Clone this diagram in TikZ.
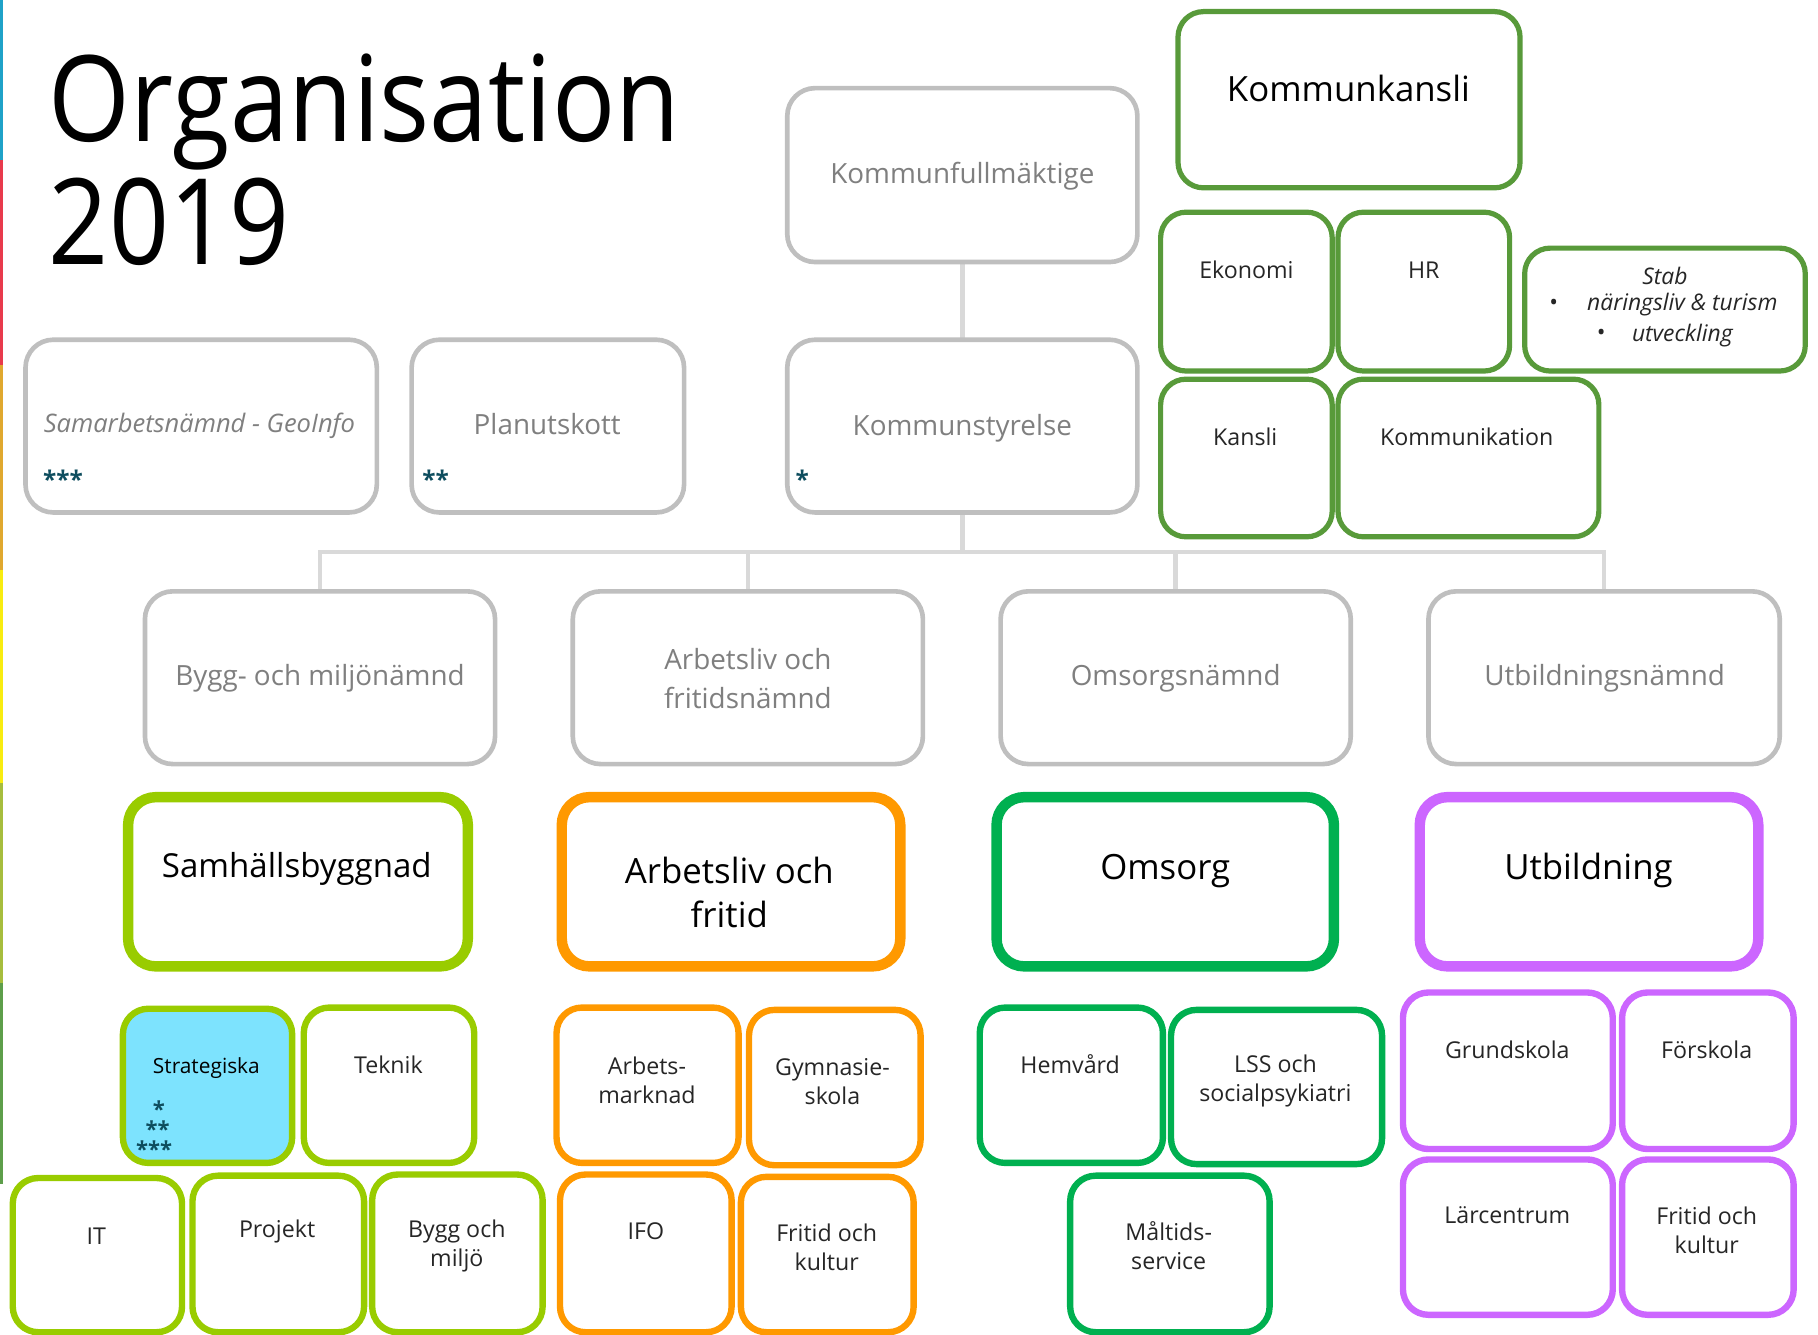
\documentclass[tikz,border=0pt]{standalone}
\usepackage{fontspec}
\setmainfont{Open Sans}
\newfontfamily\titlefont[FakeStretch=0.88]{Open Sans}
\usetikzlibrary{backgrounds}
\definecolor{boxgray}{HTML}{BFBFBF}
\definecolor{conngray}{HTML}{D9D9D9}
\definecolor{txtgray}{HTML}{7F7F7F}
\definecolor{txtdark}{HTML}{262626}
\definecolor{kgreen}{HTML}{589A3A}
\definecolor{lgreen}{HTML}{99CC00}
\definecolor{orng}{HTML}{FF9900}
\definecolor{mgreen}{HTML}{00B050}
\definecolor{purp}{HTML}{CC66FF}
\definecolor{cyanfill}{HTML}{7DE3FE}
\definecolor{starc}{HTML}{0E4D5E}
\definecolor{s1}{HTML}{1FA2C8}
\definecolor{s2}{HTML}{E83A4C}
\definecolor{s3}{HTML}{E0A82E}
\definecolor{s4}{HTML}{F8EC10}
\definecolor{s5}{HTML}{A6BD3D}
\definecolor{s6}{HTML}{5D9E4A}
\tikzset{
  obox/.style={rectangle, inner sep=0pt, outer sep=0pt, fill=white},
  gbox/.style={obox, draw=boxgray, line width=4pt, rounded corners=24pt},
  kbox/.style={obox, draw=kgreen, line width=4.5pt, rounded corners=22pt},
  bigbox/.style={obox, line width=9pt, rounded corners=24pt},
  smallbox/.style={obox, line width=5.5pt, rounded corners=22pt},
  conn/.style={draw=conngray, line width=4pt},
  titletxt/.style={text=black, font=\titlefont\fontsize{103}{106}\selectfont, inner sep=0pt, anchor=base west},
  gtxt/.style={text=txtgray, font=\fontsize{24}{34}\selectfont, align=center, inner sep=0pt},
  btxt/.style={text=black, font=\fontsize{30}{38}\selectfont, align=center, inner sep=0pt},
  stxt/.style={text=txtdark, font=\fontsize{20}{25}\selectfont, align=center, inner sep=0pt},
  startxt/.style={text=starc, font=\bfseries\fontsize{21}{14}\selectfont, inner sep=0pt},
  smallstar/.style={startxt, font=\bfseries\fontsize{19}{14}\selectfont},
  stabtxt/.style={stxt, font=\itshape\fontsize{19.7}{25}\selectfont},
}
\newcommand\bx[6]{\node[#2, minimum width=#5pt, minimum height=#6pt] (#1) at (#3,#4) {};}
\begin{document}
\begin{tikzpicture}[x=1pt, y=-1pt]
\useasboundingbox (0,0) rectangle (1568,1151);
% left stripe
\fill[s1] (0,0) rectangle (3,138);
\fill[s2] (0,138) rectangle (3,315);
\fill[s3] (0,315) rectangle (3,492);
\fill[s4] (0,492) rectangle (3,675);
\fill[s5] (0,675) rectangle (3,848);
\fill[s6] (0,848) rectangle (3,1021);
% title
\node[titletxt] (t1) at (42,122) {Organisation};
\node[titletxt] (t2) at (42,228) {2019};
% gray boxes
\bx{kf}{gbox}{830}{151}{302}{150}
\bx{ks}{gbox}{830}{367.5}{302}{149}
\bx{sam}{gbox}{173.5}{367.5}{303}{149}
\bx{plan}{gbox}{472.5}{367.5}{235}{149}
\bx{n1}{gbox}{276}{584.5}{302}{149}
\bx{n2}{gbox}{645}{584.5}{302}{149}
\bx{n3}{gbox}{1014}{584.5}{302}{149}
\bx{n4}{gbox}{1383.5}{584.5}{303}{149}
% connectors
\coordinate (j) at (830,476);
\begin{scope}[on background layer]
\draw[conn] (kf.south) -- (ks.north);
\draw[conn] (ks.south) -- (j);
\draw[conn] (n1.north) |- (j) -| (n4.north);
\draw[conn] (n2.north) -- (n2.north |- j);
\draw[conn] (n3.north) -- (n3.north |- j);
\end{scope}
% gray texts
\node[gtxt] (tkf) at (830,152) {Kommunfullmäktige};
\node[gtxt] (tks) at (830,369) {Kommunstyrelse};
\node[gtxt, font=\itshape\fontsize{22}{30}\selectfont] (tsam) at (172,367) {Samarbetsnämnd - GeoInfo};
\node[gtxt] (tplan) at (472,366) {Planutskott};
\node[startxt, anchor=west] (st1) at (37,413) {***};
\node[startxt, anchor=west] (st2) at (364,413) {**};
\node[startxt, anchor=west] (st3) at (686,413) {*};
\node[gtxt] (tn1) at (276,585) {Bygg- och miljönämnd};
\node[gtxt] (tn2) at (645,585) {Arbetsliv och\\fritidsnämnd};
\node[gtxt] (tn3) at (1014,585) {Omsorgsnämnd};
\node[gtxt] (tn4) at (1384,585) {Utbildningsnämnd};
% kommunkansli group
\bx{kk}{kbox}{1163.5}{86}{295}{152}
\bx{eko}{kbox}{1075}{251.5}{148}{137}
\bx{hr}{kbox}{1228}{251.5}{148}{137}
\bx{stab}{kbox}{1436}{267}{242}{106}
\bx{kan}{kbox}{1075}{395}{148}{136}
\bx{kom}{kbox}{1266.5}{395}{225}{136}
\node[btxt] (tkk) at (1163,76) {Kommunkansli};
\node[stxt] (teko) at (1075,233) {Ekonomi};
\node[stxt] (thr) at (1228,233) {HR};
\node[stxt] (tkan) at (1074,377) {Kansli};
\node[stxt] (tkom) at (1265,377) {Kommunikation};
\node[stabtxt] (tstab) at (1436,238) {Stab};
\node[stxt] (b1) at (1340,263) {•};
\node[stabtxt] (tstab2) at (1451,263) {näringsliv \& turism};
\node[stxt] (b2) at (1381,289) {•};
\node[stabtxt] (tstab3) at (1451,289) {utveckling};
% big boxes
\bx{sb}{bigbox, draw=lgreen}{257}{760.5}{293}{146}
\bx{af}{bigbox, draw=orng}{630.5}{760.5}{292}{146}
\bx{om}{bigbox, draw=mgreen}{1005}{760.5}{291}{146}
\bx{ut}{bigbox, draw=purp}{1370.5}{760.5}{292}{146}
\node[btxt, font=\fontsize{28.5}{38}\selectfont] (tsb) at (256,749) {Samhällsbyggnad};
\node[btxt] (taf) at (629,770) {Arbetsliv och\\fritid};
\node[btxt] (tom) at (1005,751) {Omsorg};
\node[btxt] (tut) at (1370,751) {Utbildning};
% samhällsbyggnad units
\bx{strat}{smallbox, draw=lgreen, fill=cyanfill}{179}{936.5}{146}{133}
\bx{tek}{smallbox, draw=lgreen}{335.5}{936}{147}{134}
\bx{it}{smallbox, draw=lgreen}{84}{1082.5}{146}{133}
\bx{proj}{smallbox, draw=lgreen}{240}{1081.5}{148}{135}
\bx{bm}{smallbox, draw=lgreen}{394.5}{1081}{147}{136}
\node[stxt, text=black, font=\fontsize{18}{25}\selectfont] (tstrat) at (178,921) {Strategiska};
\node[smallstar] (ss1) at (137,957) {*};
\node[smallstar] (ss2) at (136,974) {**};
\node[smallstar] (ss3) at (133,991) {***};
\node[stxt] (ttek) at (335,918) {Teknik};
\node[stxt] (tit) at (83,1066) {IT};
\node[stxt] (tproj) at (239,1062) {Projekt};
\node[stxt] (tbm) at (394,1075) {Bygg och\\miljö};
% arbetsliv units
\bx{am}{smallbox, draw=orng}{558.5}{936}{157}{134}
\bx{gy}{smallbox, draw=orng}{720}{938}{148}{134}
\bx{ifo}{smallbox, draw=orng}{557}{1081}{148}{136}
\bx{fk1}{smallbox, draw=orng}{713.5}{1082}{149}{134}
\node[stxt] (tam) at (558,931.5) {Arbets-\\marknad};
\node[stxt] (tgy) at (718,933) {Gymnasie-\\skola};
\node[stxt] (tifo) at (557,1062) {IFO};
\node[stxt] (tfk1) at (713,1076) {Fritid och\\kultur};
% omsorg units
\bx{hem}{smallbox, draw=mgreen}{924}{936}{158}{134}
\bx{lss}{smallbox, draw=mgreen}{1101}{937.5}{182}{133}
\bx{mal}{smallbox, draw=mgreen}{1009}{1081.5}{172}{135}
\node[stxt] (them) at (923,918) {Hemvård};
\node[stxt] (tlss) at (1100,932.5) {LSS och\\socialpsykiatri};
\node[stxt] (tmal) at (1008,1074.5) {Måltids-\\service};
% utbildning units
\bx{gr}{smallbox, draw=purp}{1300.5}{923.5}{181}{135}
\bx{fs}{smallbox, draw=purp}{1473}{923.5}{148}{135}
\bx{lc}{smallbox, draw=purp}{1300.5}{1067}{181}{134}
\bx{fk2}{smallbox, draw=purp}{1473}{1067}{148}{134}
\node[stxt] (tgr) at (1300,905) {Grundskola};
\node[stxt] (tfs) at (1472,905) {Förskola};
\node[stxt] (tlc) at (1300,1048) {Lärcentrum};
\node[stxt] (tfk2) at (1472,1061) {Fritid och\\kultur};
\end{tikzpicture}
\end{document}
